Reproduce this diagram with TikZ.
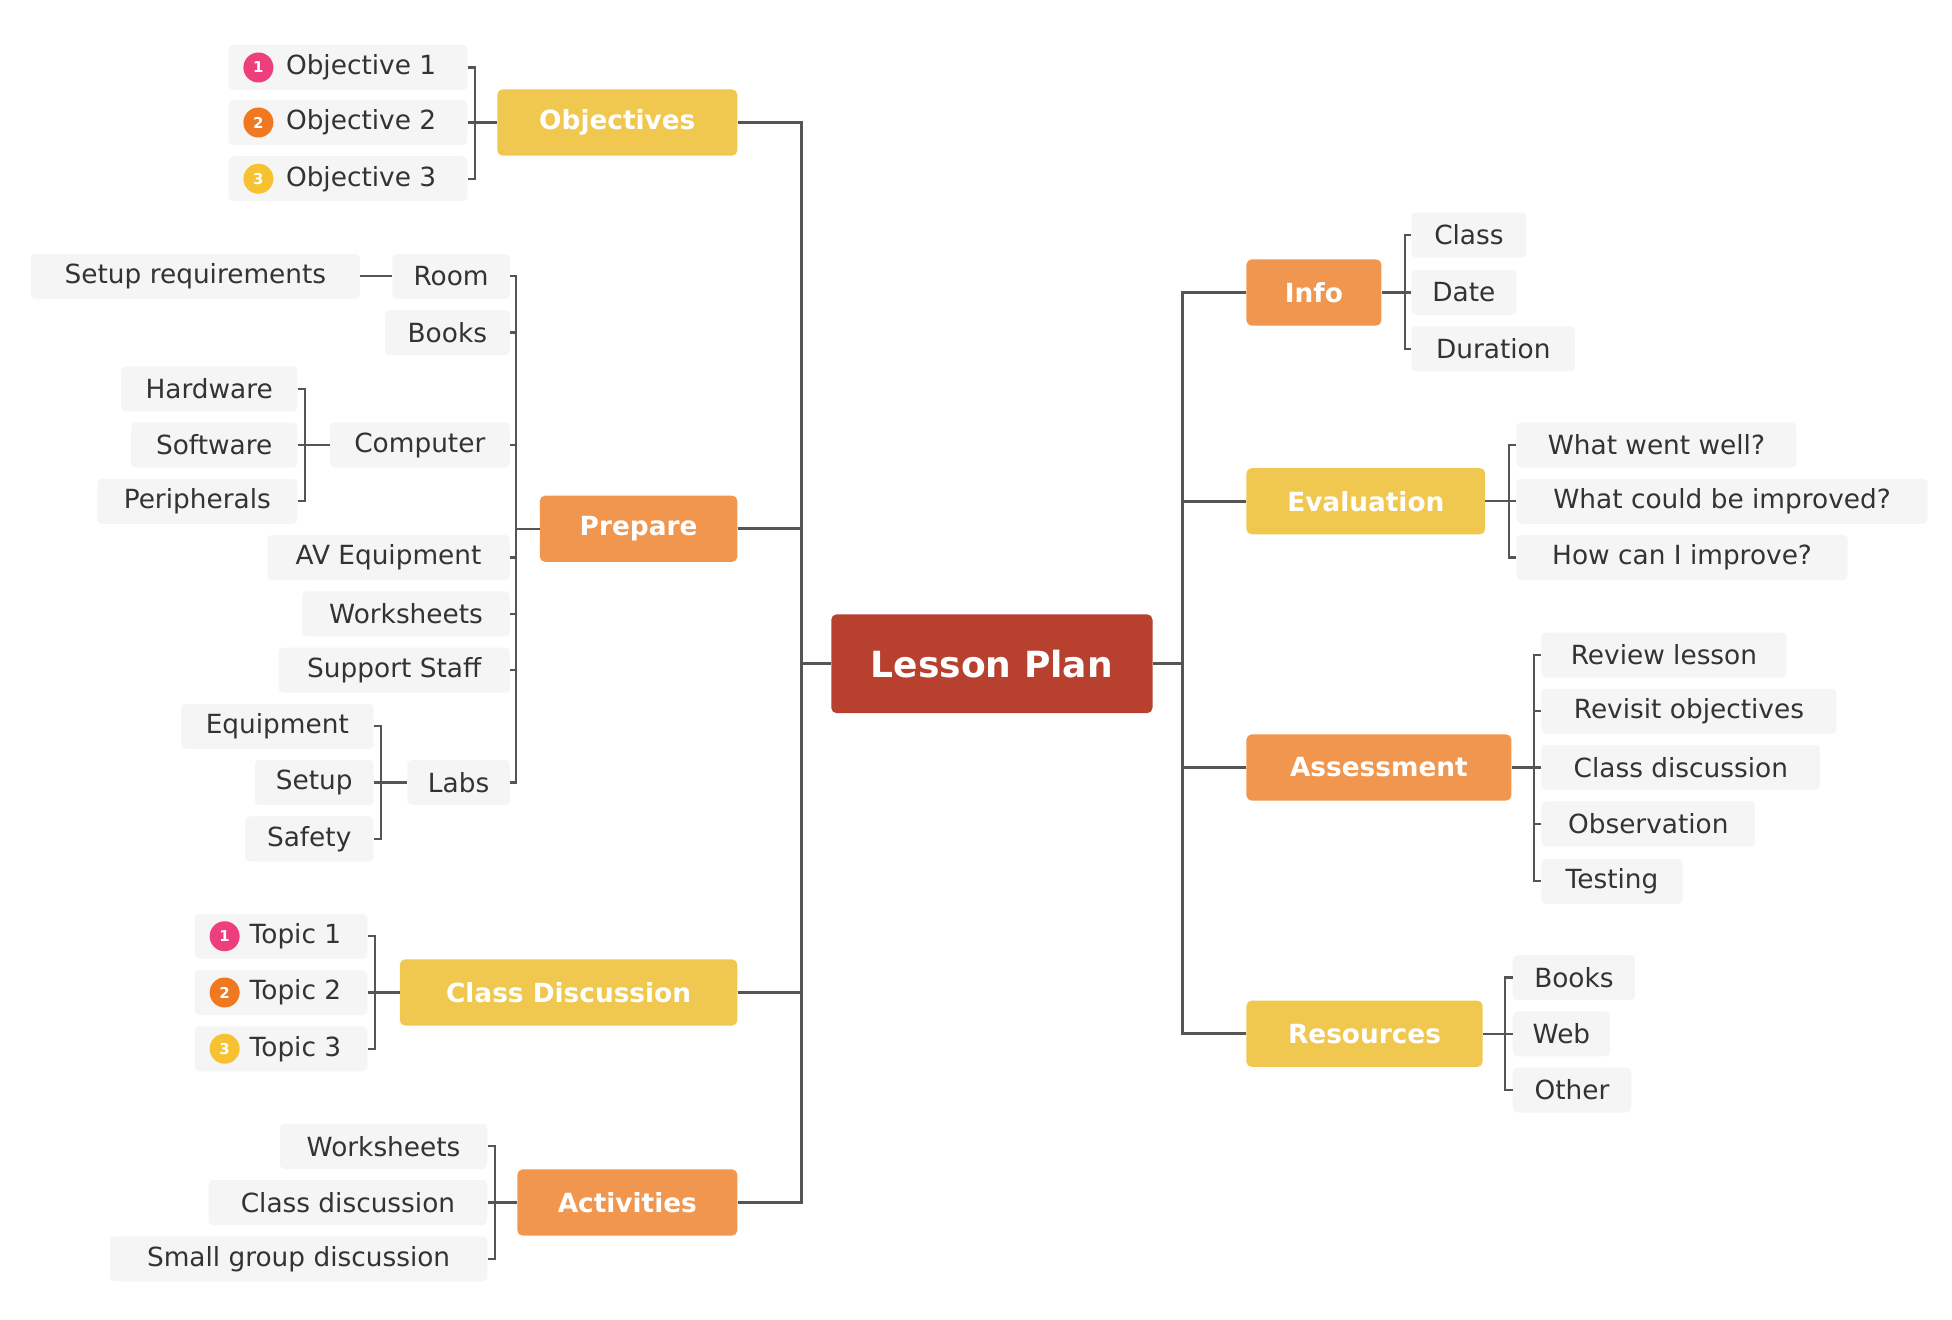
\documentclass[tikz,border=0pt]{standalone}
\usepackage{fontspec}
\setmainfont{DejaVu Sans}
\definecolor{yel}{HTML}{F0C850}
\definecolor{ora}{HTML}{F0964E}
\definecolor{red1}{HTML}{B8402F}
\definecolor{lbg}{HTML}{F5F5F5}
\definecolor{ln}{HTML}{555555}
\definecolor{txt}{HTML}{333333}
\definecolor{npink}{HTML}{EC3F7C}
\definecolor{norange}{HTML}{F07820}
\definecolor{nyellow}{HTML}{F6C232}
\newcommand\lfnode[6]{\node[leaf,anchor=#2,minimum width=#5*0.05cm] (#1) at (#3,#4) {#6};}
\newcommand\mnode[7]{\node[mainbox,fill=#7,anchor=#2,minimum width=#5*0.05cm] (#1) at (#3,#4) {#6};}
\newcommand\numnode[4]{\node[numc,fill=#3] (#1) at ([xshift=24*0.05cm]#2.west) {#4};}
\begin{document}
\begin{tikzpicture}[x=0.05cm,y=-0.05cm,
 leaf/.style={fill=lbg,rounded corners=5pt,minimum height=36*0.05cm,inner xsep=0pt,text=txt,font=\fontsize{30}{30}\selectfont},
 mainbox/.style={rounded corners=6pt,minimum height=53*0.05cm,inner xsep=0pt,text=white,font=\fontsize{30}{30}\selectfont\bfseries},
 numc/.style={circle,inner sep=0pt,minimum size=24*0.05cm,text=white,font=\fontsize{17}{17}\selectfont\bfseries},
 con/.style={draw=ln,line width=3pt},
 br/.style={draw=ln,line width=2.4pt}]
\useasboundingbox (0,0) rectangle (1561.6,1056);
% center
\node[fill=red1,rounded corners=6pt,minimum width=257*0.05cm,minimum height=79*0.05cm,text=white,font=\fontsize{41}{41}\selectfont\bfseries] (lp) at (793.5,531) {Lesson Plan};
\coordinate (lt) at (641,531);
\coordinate (rt) at (946,531);
% main nodes
\mnode{obj}{east}{590}{98}{192}{Objectives}{yel}
\mnode{prep}{east}{590}{423}{158}{Prepare}{ora}
\mnode{cd}{east}{590}{794}{270}{Class Discussion}{yel}
\mnode{act}{east}{590}{962}{176}{Activities}{ora}
\mnode{info}{west}{997}{234}{108}{Info}{ora}
\mnode{eval}{west}{997}{401}{191}{Evaluation}{yel}
\mnode{asm}{west}{997}{614}{212}{Assessment}{ora}
\mnode{res}{west}{997}{827}{189}{Resources}{yel}
% trunks
\draw[con] (lp.west) -- (lt);
\draw[con] (lp.east) -- (rt);
\draw[con] (obj.east) -| (lt) |- (act.east);
\draw[con] (prep.east) -- (prep.east -| lt);
\draw[con] (cd.east) -- (cd.east -| lt);
\draw[con] (info.west) -| (rt) |- (res.west);
\draw[con] (eval.west) -- (eval.west -| rt);
\draw[con] (asm.west) -- (asm.west -| rt);
% Objectives leaves
\lfnode{o1}{east}{374}{54}{191}{\hspace{1.05cm}Objective 1}
\lfnode{o2}{east}{374}{98}{191}{\hspace{1.05cm}Objective 2}
\lfnode{o3}{east}{374}{143}{191}{\hspace{1.05cm}Objective 3}
\numnode{n1}{o1}{npink}{1}
\numnode{n2}{o2}{norange}{2}
\numnode{n3}{o3}{nyellow}{3}
\coordinate (bo) at (380,98);
\draw[br] (o1.east) -| (bo) |- (o3.east); \draw[br] (o2.east) -- (obj.west);
% Prepare
\lfnode{room}{east}{408}{221}{94}{Room}
\lfnode{books}{east}{408}{266}{100}{Books}
\lfnode{comp}{east}{408}{356}{144}{Computer}
\lfnode{av}{east}{408}{446}{194}{AV Equipment}
\lfnode{ws}{east}{408}{491}{166}{Worksheets}
\lfnode{ss}{east}{408}{536}{185}{Support Staff}
\lfnode{labs}{east}{408}{626}{82}{Labs}
\coordinate (bp) at (413,423);
\draw[br] (room.east) -| (bp) |- (labs.east);
\foreach \n in {books,comp,av,ws,ss} \draw[br] (\n.east) -- (\n.east -| bp);
\draw[br] (bp) -- (prep.west);
\lfnode{setup}{east}{288}{221}{263}{Setup requirements}
\draw[br] (setup.east) -- (room.west);
\lfnode{hw}{east}{238}{311}{141}{Hardware}
\lfnode{sw}{east}{238}{356}{133}{Software}
\lfnode{per}{east}{238}{401}{160}{Peripherals}
\coordinate (bc) at (244,356);
\draw[br] (hw.east) -| (bc) |- (per.east); \draw[br] (sw.east) -- (comp.west);
\lfnode{eq}{east}{299}{581}{154}{Equipment}
\lfnode{su}{east}{299}{626}{95}{Setup}
\lfnode{sa}{east}{299}{671}{103}{Safety}
\coordinate (bl) at (305,626);
\draw[br] (eq.east) -| (bl) |- (sa.east); \draw[br] (su.east) -- (labs.west);
% Class discussion
\lfnode{t1}{east}{294}{749}{138}{\hspace{1.15cm}Topic 1}
\lfnode{t2}{east}{294}{794}{138}{\hspace{1.15cm}Topic 2}
\lfnode{t3}{east}{294}{839}{138}{\hspace{1.15cm}Topic 3}
\numnode{m1}{t1}{npink}{1}
\numnode{m2}{t2}{norange}{2}
\numnode{m3}{t3}{nyellow}{3}
\coordinate (bt) at (300,794);
\draw[br] (t1.east) -| (bt) |- (t3.east); \draw[br] (t2.east) -- (cd.west);
% Activities
\lfnode{a1}{east}{390}{917}{166}{Worksheets}
\lfnode{a2}{east}{390}{962}{223}{Class discussion}
\lfnode{a3}{east}{390}{1007}{302}{Small group discussion}
\coordinate (ba) at (396,962);
\draw[br] (a1.east) -| (ba) |- (a3.east); \draw[br] (a2.east) -- (act.west);
% Info
\lfnode{i1}{west}{1129}{188}{92}{Class}
\lfnode{i2}{west}{1129}{234}{84}{Date}
\lfnode{i3}{west}{1129}{279}{131}{Duration}
\coordinate (bi) at (1124,234);
\draw[br] (i1.west) -| (bi) |- (i3.west); \draw[br] (i2.west) -- (info.east);
% Evaluation
\lfnode{e1}{west}{1213}{356}{224}{What went well?}
\lfnode{e2}{west}{1213}{401}{329}{What could be improved?}
\lfnode{e3}{west}{1213}{446}{265}{How can I improve?}
\coordinate (be) at (1207,401);
\draw[br] (e1.west) -| (be) |- (e3.west); \draw[br] (e2.west) -- (eval.east);
% Assessment
\lfnode{s1}{west}{1233}{524}{196}{Review lesson}
\lfnode{s2}{west}{1233}{569}{236}{Revisit objectives}
\lfnode{s3}{west}{1233}{614}{223}{Class discussion}
\lfnode{s4}{west}{1233}{659}{171}{Observation}
\lfnode{s5}{west}{1233}{705}{113}{Testing}
\coordinate (bs) at (1227,614);
\draw[br] (s1.west) -| (bs) |- (s5.west);
\foreach \n in {s2,s4} \draw[br] (\n.west) -- (\n.west -| bs);
\draw[br] (s3.west) -- (asm.east);
% Resources
\lfnode{r1}{west}{1210}{782}{98}{Books}
\lfnode{r2}{west}{1210}{827}{78}{Web}
\lfnode{r3}{west}{1210}{872}{95}{Other}
\coordinate (br) at (1204,827);
\draw[br] (r1.west) -| (br) |- (r3.west); \draw[br] (r2.west) -- (res.east);
\end{tikzpicture}
\end{document}
